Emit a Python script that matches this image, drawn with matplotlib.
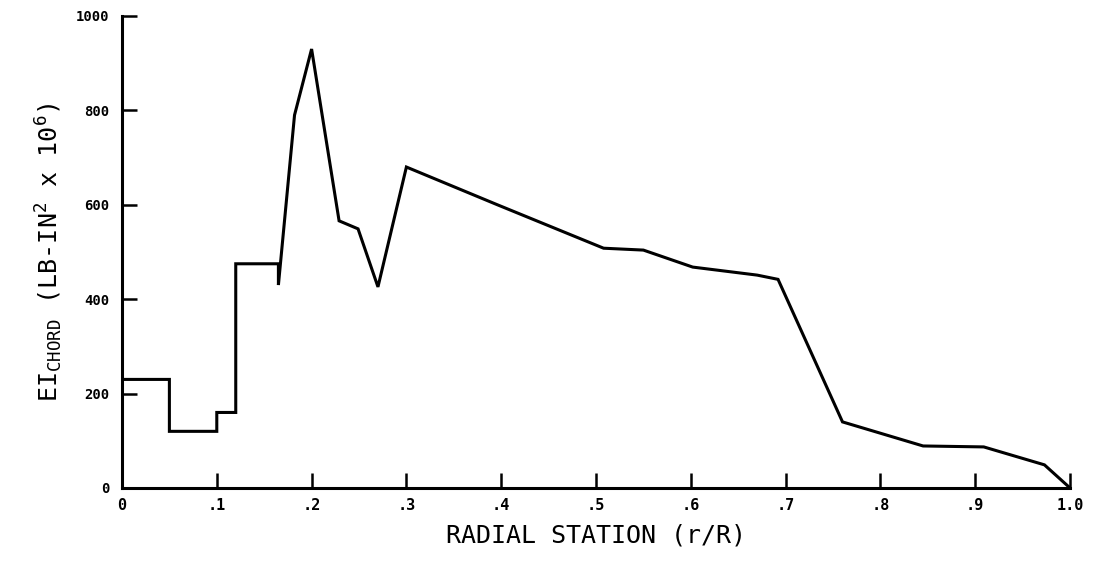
import numpy as np
import matplotlib
matplotlib.use("Agg")
import matplotlib.pyplot as plt

# chordwise bending stiffness along the blade span
r_over_R = [0.0, 0.05, 0.05, 0.10, 0.10, 0.12, 0.12, 0.165, 0.165, 0.182, 0.20,
            0.229, 0.249, 0.27, 0.30, 0.396, 0.508, 0.55, 0.602, 0.67, 0.692,
            0.76, 0.845, 0.909, 0.973, 1.0]
ei_chord = [230, 230, 120, 120, 160, 160, 475, 475, 430, 790, 930,
            566, 549, 426, 680, 600, 508, 504, 468, 451, 442,
            140, 89, 87, 49, 0]

x_ticks = [0, .1, .2, .3, .4, .5, .6, .7, .8, .9, 1.0]
x_tick_labels = ["0", ".1", ".2", ".3", ".4", ".5", ".6", ".7", ".8", ".9", "1.0"]
y_ticks = [0, 200, 400, 600, 800, 1000]

plt.rcParams["font.family"] = ["DejaVu Sans Mono"]
plt.rcParams["mathtext.default"] = "regular"

fig = plt.figure(figsize=(10.95, 5.71), dpi=100)
ax = fig.add_axes([0.1114, 0.1454, 0.8658, 0.8266])

ax.plot(r_over_R, ei_chord, color="black", lw=2.2, solid_joinstyle="miter")

ax.set_xlim(0, 1.0)
ax.set_ylim(0, 1000)
ax.set_xticks(x_ticks)
ax.set_xticklabels(x_tick_labels)
ax.set_yticks(y_ticks)

for side in ("top", "right"):
    ax.spines[side].set_visible(False)
for side in ("left", "bottom"):
    ax.spines[side].set_linewidth(2.2)

ax.tick_params(axis="both", direction="in", length=11, width=1.8)
ax.tick_params(axis="y", pad=9, labelsize=10)
ax.tick_params(axis="x", pad=7, labelsize=11)
for lab in ax.get_xticklabels() + ax.get_yticklabels():
    lab.set_fontweight("bold")

ax.set_xlabel("RADIAL STATION (r/R)", fontsize=18, labelpad=8)
ax.set_ylabel("EI$_{CHORD}$ (LB-IN$^2$ x 10$^6$)", fontsize=18, labelpad=8)

fig.savefig("out.png", dpi=100)
